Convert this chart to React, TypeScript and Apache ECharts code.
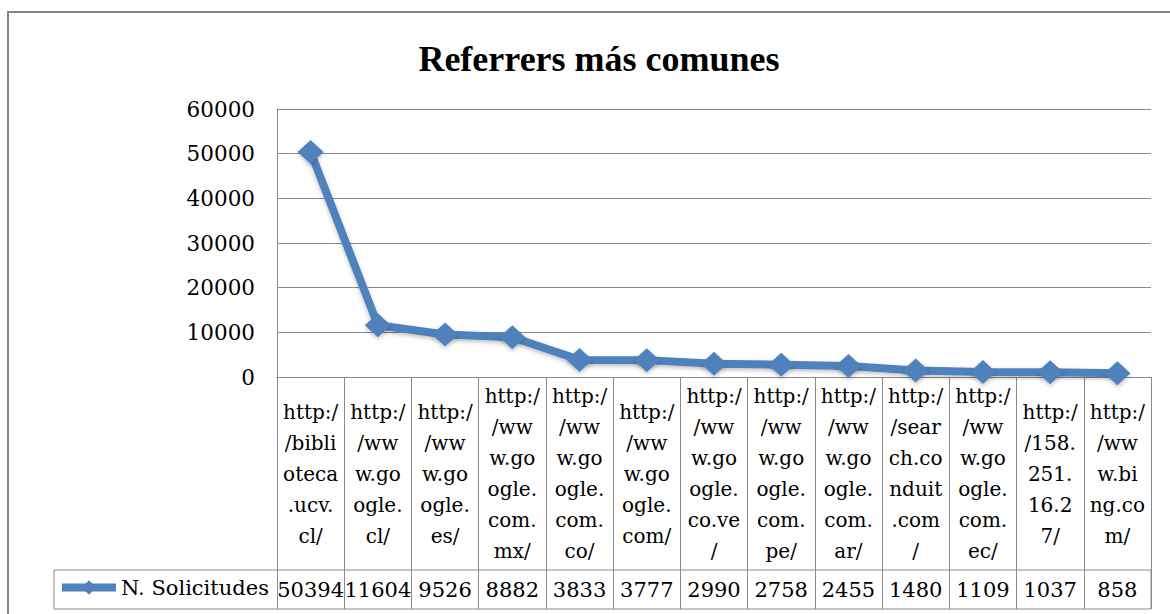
import React, { useEffect, useRef } from "react";
import * as echarts from "echarts";

const title = "Referrers más comunes";
const seriesName = "N. Solicitudes";
const categoryLines: string[][] = [
  ["http:/", "/bibli", "oteca", ".ucv.", "cl/"],
  ["http:/", "/ww", "w.go", "ogle.", "cl/"],
  ["http:/", "/ww", "w.go", "ogle.", "es/"],
  ["http:/", "/ww", "w.go", "ogle.", "com.", "mx/"],
  ["http:/", "/ww", "w.go", "ogle.", "com.", "co/"],
  ["http:/", "/ww", "w.go", "ogle.", "com/"],
  ["http:/", "/ww", "w.go", "ogle.", "co.ve", "/"],
  ["http:/", "/ww", "w.go", "ogle.", "com.", "pe/"],
  ["http:/", "/ww", "w.go", "ogle.", "com.", "ar/"],
  ["http:/", "/sear", "ch.co", "nduit", ".com", "/"],
  ["http:/", "/ww", "w.go", "ogle.", "com.", "ec/"],
  ["http:/", "/158.", "251.", "16.2", "7/"],
  ["http:/", "/ww", "w.bi", "ng.co", "m/"],
];
const categories = categoryLines.map((l) => l.join(""));
const values = [50394, 11604, 9526, 8882, 3833, 3777, 2990, 2758, 2455, 1480, 1109, 1037, 858];
const yMin = 0;
const yMax = 60000;
const yInterval = 10000;

const TITLE_FONT = "Liberation Serif";
const FONT = "DejaVu Serif";
const W = 1170;
const H = 614;
const plotLeft = 277;
const plotRight = 1151;
const plotTop = 109;
const plotBottom = 377;
const headerH = 193;
const valueRowH = 39;
const legendCellLeft = 54;
const gridColor = "#8a8a8a";
const blue = "#4F81BD";

export default function App() {
  const ref = useRef<HTMLDivElement>(null);
  useEffect(() => {
    if (!ref.current) return;
    const chart = echarts.init(ref.current, null, { renderer: "svg" });
    chart.setOption({
      animation: false,
      backgroundColor: "#ffffff",
      title: {
        text: title,
        left: 594,
        textAlign: "center",
        top: 36,
        textStyle: { fontFamily: TITLE_FONT, fontSize: 36, fontWeight: "bold", color: "#000" },
      },
      legend: {
        data: [seriesName],
        left: legendCellLeft + 4,
        top: plotBottom + headerH + 7,
        padding: 0,
        itemWidth: 54,
        itemHeight: 18,
        itemGap: 0,
        lineStyle: { width: 8, color: blue },
        textStyle: { fontFamily: FONT, fontSize: 21, color: "#000" },
      },
      grid: {
        left: plotLeft,
        right: W - plotRight,
        top: plotTop,
        bottom: H - plotBottom,
        containLabel: false,
      },
      xAxis: [
        {
          type: "category",
          data: categories,
          boundaryGap: true,
          axisLine: { show: true, lineStyle: { color: gridColor, width: 1 } },
          axisTick: {
            show: true,
            interval: 0,
            length: headerH + valueRowH,
            lineStyle: { color: gridColor, width: 1 },
          },
          axisLabel: {
            interval: 0,
            hideOverlap: false,
            margin: headerH / 2,
            verticalAlign: "middle",
            align: "center",
            lineHeight: 31,
            fontFamily: FONT,
            fontSize: 20,
            color: "#000",
            formatter: (_v: string, i: number) => categoryLines[i].join("\n"),
          },
        },
        {
          type: "category",
          data: values.map((v) => String(v)),
          position: "bottom",
          offset: headerH,
          boundaryGap: true,
          axisLine: { show: false },
          axisTick: { show: false },
          axisLabel: {
            interval: 0,
            hideOverlap: false,
            margin: valueRowH / 2,
            verticalAlign: "middle",
            align: "center",
            fontFamily: FONT,
            fontSize: 21,
            color: "#000",
          },
        },
      ],
      yAxis: {
        type: "value",
        min: yMin,
        max: yMax,
        interval: yInterval,
        axisLine: { show: true, lineStyle: { color: gridColor, width: 1 } },
        axisTick: { show: false },
        splitLine: { show: true, lineStyle: { color: gridColor, width: 1 } },
        axisLabel: {
          margin: 22,
          fontFamily: FONT,
          fontSize: 21.5,
          color: "#000",
          formatter: (v: number) => String(v),
        },
      },
      series: [
        {
          name: seriesName,
          type: "line",
          xAxisIndex: 0,
          data: values,
          symbol: "diamond",
          symbolSize: [26, 24],
          lineStyle: {
            color: blue,
            width: 8,
            shadowColor: "rgba(0,0,0,0.25)",
            shadowBlur: 4,
            shadowOffsetY: 2,
          },
          itemStyle: {
            color: blue,
            shadowColor: "rgba(0,0,0,0.25)",
            shadowBlur: 4,
            shadowOffsetY: 2,
          },
          z: 5,
        },
      ],
      graphic: [
        {
          type: "rect",
          shape: { x: 8, y: 12, width: 1300, height: 800 },
          style: { fill: "none", stroke: "#868686", lineWidth: 2 },
          silent: true,
        },
        {
          type: "rect",
          shape: {
            x: legendCellLeft,
            y: plotBottom + headerH,
            width: plotRight - legendCellLeft,
            height: valueRowH,
          },
          style: { fill: "none", stroke: gridColor, lineWidth: 1 },
          silent: true,
        },
      ],
    });
    return () => chart.dispose();
  }, []);
  return (
    <div
      ref={ref}
      style={{ position: "fixed", left: 0, top: 0, width: W, height: H, background: "#fff" }}
    />
  );
}
